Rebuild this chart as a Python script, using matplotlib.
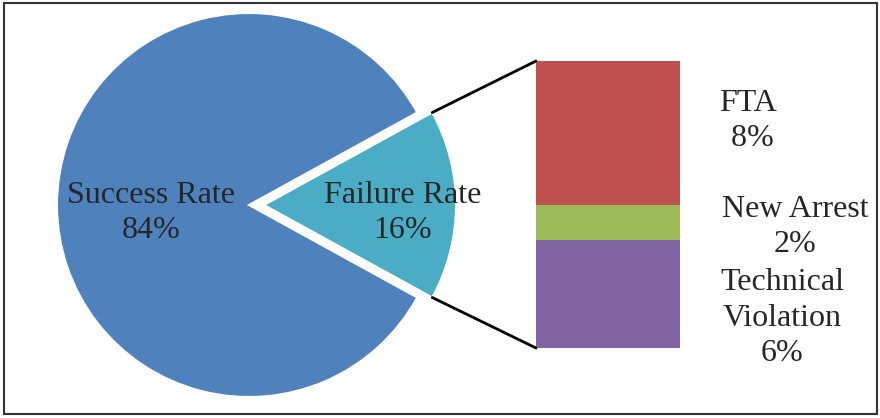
import numpy as np
import matplotlib.pyplot as plt
from matplotlib.patches import ConnectionPatch, Rectangle

plt.rcParams['font.family'] = ['Liberation Serif', 'DejaVu Serif']

# data
pie_labels = ["Success Rate", "Failure Rate"]
pie_values = [84, 16]
pie_colors = ["#4F81BD", "#4BACC6"]

bar_labels = ["Technical\nViolation", "New Arrest", "FTA"]
bar_values = [6, 2, 8]
bar_colors = ["#8064A2", "#9BBB59", "#C0504D"]

TXT = "#262626"
W, H = 880, 418
LS = 1.3

fig = plt.figure(figsize=(W / 100, H / 100), dpi=100)
ax = fig.add_axes([0, 0, 1, 1])

# pie in pixel-like coordinates (y up)
cx, cy, r = 249, 213, 192
failure_share = pie_values[1] / sum(pie_values)
start = 360 * failure_share / 2
# explode is in data units here (pixels)
wedges, _ = ax.pie(pie_values, colors=pie_colors, startangle=start,
                   center=(cx, cy), radius=r, explode=[0, 15],
                   wedgeprops=dict(edgecolor="white", linewidth=1.5),
                   frame=True)
ax.set_xlim(0, W)
ax.set_ylim(0, H)
ax.set_aspect("auto")
ax.axis("off")

# labels inside wedges (sit a little below the centre line)
for w, lab, val, dist in zip(wedges, pie_labels, pie_values, [0.51, 0.72]):
    mid = np.deg2rad((w.theta1 + w.theta2) / 2)
    x0, y0 = w.center
    ax.text(x0 + dist * r * np.cos(mid), y0 + dist * r * np.sin(mid) - 8,
            f"{lab}\n{val}%", ha="center", va="center",
            fontsize=23, color=TXT, linespacing=LS)

# stacked bar for the failure breakdown
bx = fig.add_axes([536 / W, 70 / H, 144 / W, 287 / H])
bottom = 0
for lab, val, col in zip(bar_labels, bar_values, bar_colors):
    bx.bar(0, val, bottom=bottom, width=1, color=col, edgecolor="none")
    bottom += val
bx.set_xlim(-0.5, 0.5)
bx.set_ylim(0, sum(bar_values))
bx.axis("off")

# bar labels to the right
fig.text(748 / W, 1 - 121 / H, "FTA\n 8%", ha="center", va="center",
         fontsize=23, color=TXT, linespacing=LS)
fig.text(795 / W, 1 - 227 / H, "New Arrest\n2%", ha="center", va="center",
         fontsize=23, color=TXT, linespacing=LS)
fig.text(782 / W, 1 - 318 / H, "Technical\nViolation\n6%", ha="center",
         va="center", fontsize=23, color=TXT, linespacing=LS)

# connector lines from failure wedge to bar
fw = wedges[1]
fx, fy = fw.center
for ang, by in [(fw.theta2, sum(bar_values)), (fw.theta1, 0)]:
    a = np.deg2rad(ang)
    p = (fx + r * np.cos(a), fy + r * np.sin(a))
    con = ConnectionPatch(xyA=p, coordsA=ax.transData, xyB=(-0.5, by),
                          coordsB=bx.transData, color="black", linewidth=2)
    fig.add_artist(con)

# outer frame
fig.add_artist(Rectangle((4 / W, 4 / H), 873 / W, 411 / H,
                         transform=fig.transFigure, fill=False,
                         edgecolor="#333333", linewidth=1.5))

fig.savefig("out.png", dpi=100)
